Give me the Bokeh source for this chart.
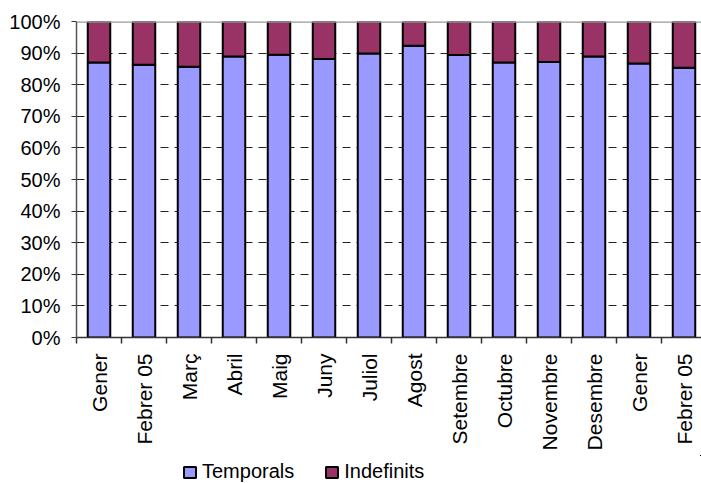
from bokeh.plotting import figure
from bokeh.models import ColumnDataSource, FixedTicker, Legend, LegendItem, Span, LinearAxis, Range1d, Grid
from bokeh.layouts import column
from bokeh.embed import file_html
from bokeh.resources import INLINE

months = ["Gener", "Febrer 05", "Març", "Abril", "Maig", "Juny", "Juliol", "Agost",
          "Setembre", "Octubre", "Novembre", "Desembre", "Gener", "Febrer 05"]
temporals = [87.0, 86.3, 85.7, 88.9, 89.5, 88.1, 89.9, 92.3, 89.4, 87.0, 87.2, 88.9, 86.7, 85.4]
indefinits = [100 - t for t in temporals]
y_ticks = [0, 10, 20, 30, 40, 50, 60, 70, 80, 90, 100]
series_names = ["Temporals", "Indefinits"]
series_colors = ["#9999FF", "#993366"]

n = len(months)
xs = [i + 0.5 for i in range(n)]
src = ColumnDataSource(dict(
    x=xs,
    t0=[0.0] * n,
    t1=temporals,
    i1=[t + d for t, d in zip(temporals, indefinits)],
))

FONT = "Liberation Sans"

p = figure(width=701, height=455, output_backend="svg", toolbar_location=None,
           x_range=Range1d(0, 625 / 45.0), y_range=Range1d(0, 100),
           x_axis_type=None, y_axis_type=None)
p.min_border_left = 76
p.min_border_right = 0
p.min_border_top = 21
p.min_border_bottom = 118
p.outline_line_color = None
p.background_fill_color = "white"
p.border_fill_color = "white"

# grid
g = Grid(dimension=1, ticker=FixedTicker(ticks=y_ticks[1:-1]))
g.grid_line_color = "#222222"
g.grid_line_dash = "8 6"
g.grid_line_width = 1
p.add_layout(g)

r1 = p.vbar(x="x", bottom="t0", top="t1", width=0.5, source=src,
            fill_color=series_colors[0], line_color="black", line_width=2)
r2 = p.vbar(x="x", bottom="t1", top="i1", width=0.5, source=src,
            fill_color=series_colors[1], line_color="black", line_width=2)

# y axis
yax = LinearAxis(ticker=FixedTicker(ticks=y_ticks, minor_ticks=[]))
yax.major_label_overrides = {v: f"{v}%" for v in y_ticks}
yax.major_label_text_font = FONT
yax.major_label_text_font_size = "20px"
yax.major_label_text_color = "black"
yax.major_tick_in = 0
yax.major_tick_out = 5
yax.major_label_standoff = 11
yax.axis_line_color = "#555555"
yax.axis_line_width = 1.5
yax.major_tick_line_color = "#333333"
p.add_layout(yax, "left")

# x axis
xax = LinearAxis(ticker=FixedTicker(ticks=xs, minor_ticks=[float(i) for i in range(n + 1)]))
xax.major_label_overrides = {x: m for x, m in zip(xs, months)}
xax.major_label_orientation = 3.14159265 / 2
xax.major_label_text_font = FONT
xax.major_label_text_font_size = "21px"
xax.major_label_text_color = "black"
xax.major_tick_line_color = None
xax.minor_tick_in = 0
xax.minor_tick_out = 6
xax.minor_tick_line_color = "#333333"
xax.minor_tick_line_width = 1.5
xax.major_label_standoff = 10
xax.axis_line_color = "#333333"
xax.axis_line_width = 1.5
p.add_layout(xax, "below")

top_line = Span(location=100, dimension="width", line_color="#999999", line_width=2.5)
p.add_layout(top_line)

# legend in its own strip below the chart (same data, ranges keep bars out of view)
p2 = figure(width=701, height=28, output_backend="svg", toolbar_location=None,
            x_range=Range1d(-100, -99), y_range=Range1d(-100, -99),
            x_axis_type=None, y_axis_type=None)
p2.min_border = 0
p2.outline_line_color = None
p2.xgrid.visible = False
p2.ygrid.visible = False
lr1 = p2.vbar(x="x", bottom="t0", top="t1", width=0.5, source=src,
              fill_color=series_colors[0], line_color="black", line_width=2)
lr2 = p2.vbar(x="x", bottom="t1", top="i1", width=0.5, source=src,
              fill_color=series_colors[1], line_color="black", line_width=2)

legend = Legend(items=[LegendItem(label=series_names[0], renderers=[lr1]),
                       LegendItem(label=series_names[1], renderers=[lr2])],
                orientation="horizontal", location=(106, 0))
legend.label_text_font = FONT
legend.label_text_font_size = "20px"
legend.label_text_color = "black"
legend.glyph_width = 15
legend.glyph_height = 14
legend.label_standoff = 5
legend.spacing = 30
legend.padding = 2
legend.margin = 0
legend.border_line_color = None
legend.background_fill_alpha = 0
p2.add_layout(legend, "center")

layout = column(p, p2, spacing=0)
open("out.html", "w").write(file_html(layout, INLINE))
